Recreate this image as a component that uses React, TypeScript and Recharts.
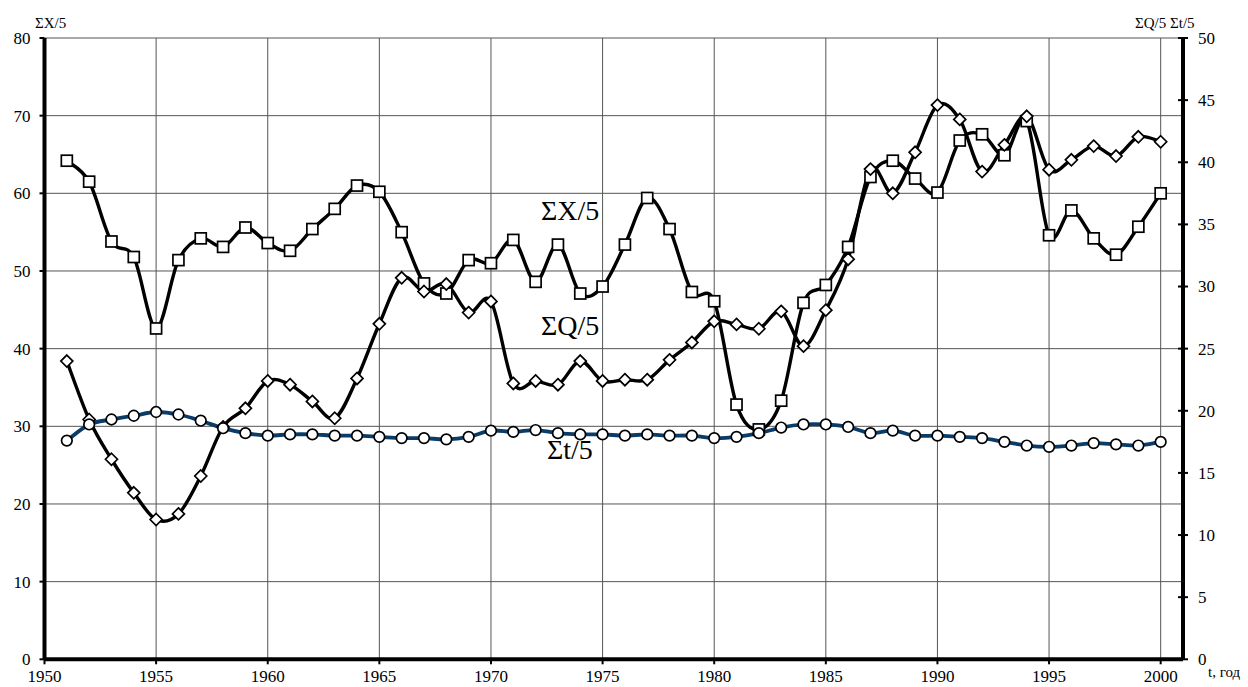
import React from 'react';
import { LineChart, Line, XAxis, YAxis, CartesianGrid } from 'recharts';

const years = [
  1951, 1952, 1953, 1954, 1955, 1956, 1957, 1958, 1959, 1960,
  1961, 1962, 1963, 1964, 1965, 1966, 1967, 1968, 1969, 1970,
  1971, 1972, 1973, 1974, 1975, 1976, 1977, 1978, 1979, 1980,
  1981, 1982, 1983, 1984, 1985, 1986, 1987, 1988, 1989, 1990,
  1991, 1992, 1993, 1994, 1995, 1996, 1997, 1998, 1999, 2000,
];

// ΣX/5 (left axis)
const sumX = [
  64.2, 61.5, 53.8, 51.8, 42.6, 51.4, 54.2, 53.1, 55.6, 53.6,
  52.6, 55.4, 58.0, 61.0, 60.2, 55.0, 48.4, 47.1, 51.4, 51.0,
  54.0, 48.6, 53.4, 47.1, 48.0, 53.4, 59.4, 55.4, 47.3, 46.1,
  32.8, 29.6, 33.3, 45.9, 48.2, 53.1, 62.1, 64.2, 61.9, 60.1,
  66.8, 67.6, 64.9, 69.3, 54.6, 57.8, 54.2, 52.1, 55.7, 60.0,
];

// ΣQ/5 (right axis)
const sumQ = [
  24.0, 19.3, 16.1, 13.4, 11.25, 11.7, 14.75, 18.7, 20.2, 22.4,
  22.1, 20.75, 19.4, 22.6, 27.0, 30.7, 29.6, 30.2, 27.9, 28.8,
  22.2, 22.4, 22.1, 24.0, 22.4, 22.5, 22.5, 24.1, 25.5, 27.2,
  26.95, 26.6, 28.0, 25.2, 28.1, 32.2, 39.45, 37.5, 40.8, 44.6,
  43.45, 39.25, 41.4, 43.7, 39.4, 40.2, 41.3, 40.5, 42.05, 41.65,
];

// Σt/5 (right axis)
const sumT = [
  17.6, 18.9, 19.3, 19.6, 19.9, 19.7, 19.2, 18.6, 18.2, 18.0,
  18.1, 18.1, 18.0, 18.0, 17.9, 17.8, 17.8, 17.7, 17.9, 18.4,
  18.3, 18.45, 18.2, 18.1, 18.1, 18.0, 18.1, 18.0, 18.0, 17.8,
  17.9, 18.2, 18.65, 18.9, 18.9, 18.7, 18.2, 18.4, 18.0, 18.0,
  17.9, 17.8, 17.5, 17.2, 17.1, 17.2, 17.4, 17.3, 17.2, 17.5,
];

const xTicks = [1950, 1955, 1960, 1965, 1970, 1975, 1980, 1985, 1990, 1995, 2000];
const leftTicks = [0, 10, 20, 30, 40, 50, 60, 70, 80];
const rightTicks = [0, 5, 10, 15, 20, 25, 30, 35, 40, 45, 50];

const data = years.map((y, i) => ({ year: y, x: sumX[i], q: sumQ[i], t: sumT[i] }));

const FONT = "'Liberation Serif', 'Times New Roman', Times, 'DejaVu Serif', serif";

// Catmull-Rom style smoothing (similar to spreadsheet "smoothed line")
const smoothCurve: any = (context: any) => {
  let pts: number[][] = [];
  return {
    areaStart() {},
    areaEnd() {},
    lineStart() {
      pts = [];
    },
    point(x: number, y: number) {
      pts.push([+x, +y]);
    },
    lineEnd() {
      if (!pts.length) return;
      context.moveTo(pts[0][0], pts[0][1]);
      for (let i = 0; i < pts.length - 1; i++) {
        const p0 = pts[i - 1] || pts[i];
        const p1 = pts[i];
        const p2 = pts[i + 1];
        const p3 = pts[i + 2] || p2;
        context.bezierCurveTo(
          p1[0] + (p2[0] - p0[0]) / 6,
          p1[1] + (p2[1] - p0[1]) / 6,
          p2[0] - (p3[0] - p1[0]) / 6,
          p2[1] - (p3[1] - p1[1]) / 6,
          p2[0],
          p2[1]
        );
      }
    },
  };
};

const SquareDot = (props: any) => {
  const { cx, cy, index } = props;
  if (cx == null || cy == null) return <g key={`s${index}`} />;
  const s = 5.5;
  return (
    <rect key={`s${index}`} x={cx - s} y={cy - s} width={2 * s} height={2 * s} fill="#fff" stroke="#000" strokeWidth={1.7} />
  );
};

const DiamondDot = (props: any) => {
  const { cx, cy, index } = props;
  if (cx == null || cy == null) return <g key={`d${index}`} />;
  const s = 6;
  return (
    <path
      key={`d${index}`}
      d={`M${cx},${cy - s}L${cx + s},${cy}L${cx},${cy + s}L${cx - s},${cy}Z`}
      fill="#fff"
      stroke="#000"
      strokeWidth={1.7}
    />
  );
};

const CircleDot = (props: any) => {
  const { cx, cy, index } = props;
  if (cx == null || cy == null) return <g key={`c${index}`} />;
  return <circle key={`c${index}`} cx={cx} cy={cy} r={5.3} fill="#fff" stroke="#000" strokeWidth={1.7} />;
};

const RightTick = (props: any) => {
  const { x, y, payload } = props;
  return (
    <g>
      <line x1={x - 5} y1={y} x2={x + 5} y2={y} stroke="#000" strokeWidth={2} />
      <text x={x + 15} y={y} dy="0.35em" textAnchor="start" style={{ fontFamily: FONT }} fontSize={17} fill="#000">
        {payload.value}
      </text>
    </g>
  );
};

const abs = (left: number, top: number, size: number, text: string) => (
  <div
    style={{
      position: 'absolute',
      left,
      top,
      fontFamily: FONT,
      fontSize: size,
      lineHeight: 1,
      color: '#000',
      whiteSpace: 'nowrap',
    }}
  >
    {text}
  </div>
);

const tickStyle = { fontFamily: FONT, fontSize: 17, fill: '#000' };

export default function App() {
  return (
    <div style={{ position: 'absolute', left: 0, top: 0, width: 1248, height: 687, background: '#fff', fontFamily: FONT }}>
      <LineChart
        width={1248}
        height={687}
        data={data}
        margin={{ top: 38, right: 0, left: 0, bottom: 0 }}
        style={{ fontFamily: FONT }}
      >
        <CartesianGrid
          yAxisId="left"
          stroke="#555"
          strokeWidth={1}
          horizontalValues={leftTicks}
          verticalValues={xTicks}
        />
        <XAxis
          dataKey="year"
          type="number"
          domain={[1950, 2001]}
          ticks={xTicks}
          height={27.7}
          allowDataOverflow
          tickSize={5}
          tickMargin={6}
          axisLine={{ stroke: '#000', strokeWidth: 4 }}
          tickLine={{ stroke: '#000', strokeWidth: 2 }}
          tick={tickStyle}
        />
        <YAxis
          yAxisId="left"
          orientation="left"
          width={44.5}
          domain={[0, 80]}
          ticks={leftTicks}
          allowDataOverflow
          tickSize={5}
          tickMargin={9}
          axisLine={{ stroke: '#000', strokeWidth: 4 }}
          tickLine={{ stroke: '#000', strokeWidth: 2 }}
          tick={tickStyle}
        />
        <YAxis
          yAxisId="right"
          orientation="right"
          width={65}
          domain={[0, 50]}
          ticks={rightTicks}
          allowDataOverflow
          tickSize={0}
          tickMargin={0}
          axisLine={{ stroke: '#000', strokeWidth: 4 }}
          tickLine={false}
          tick={<RightTick />}
        />
        <Line
          yAxisId="left"
          dataKey="x"
          type={smoothCurve}
          stroke="#000"
          strokeWidth={3.4}
          dot={SquareDot}
          activeDot={false}
          isAnimationActive={false}
        />
        <Line
          yAxisId="right"
          dataKey="q"
          type={smoothCurve}
          stroke="#000"
          strokeWidth={3.4}
          dot={DiamondDot}
          activeDot={false}
          isAnimationActive={false}
        />
        <Line
          yAxisId="right"
          dataKey="t"
          type={smoothCurve}
          stroke="#0b3c68"
          strokeWidth={3.8}
          dot={CircleDot}
          activeDot={false}
          isAnimationActive={false}
        />
      </LineChart>
      {abs(35, 16, 15, 'ΣX/5')}
      {abs(1135, 16, 15, 'ΣQ/5 Σt/5')}
      {abs(1208, 665, 15, 't, год')}
      {abs(541, 197, 28, 'ΣX/5')}
      {abs(541, 312, 28, 'ΣQ/5')}
      {abs(547, 436, 28, 'Σt/5')}
    </div>
  );
}
